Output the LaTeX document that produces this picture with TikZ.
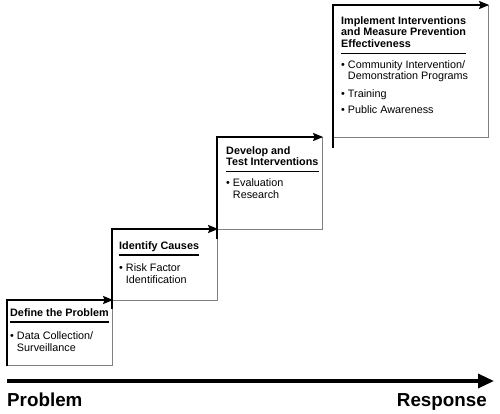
\documentclass[tikz,border=0pt]{standalone}
\usepackage{fontspec}
\setmainfont{Liberation Sans}
\usetikzlibrary{arrows.meta}

\tikzset{
  frame/.style={draw=black!50, line width=1.1pt, inner sep=0pt, anchor=north west},
  riser/.style={line width=1.8pt, -{Stealth[length=10pt,width=8pt,inset=1.5pt]}},
  head/.style={font=\bfseries\fontsize{10.8}{11.8}\selectfont, align=left, inner sep=0pt,
    anchor=north west, execute at end node=\strut},
  items/.style={font=\fontsize{10.8}{11.8}\selectfont, align=left, inner sep=0pt, anchor=north west},
  hrule/.style={line width=1.5pt},
  axislabel/.style={font=\bfseries\fontsize{18.8}{20}\selectfont, inner sep=0pt},
  axis/.style={line width=3.3pt, -{Triangle[length=16pt,width=14pt]}}
}

\begin{document}
\begin{tikzpicture}[x=1pt,y=-1pt]
\useasboundingbox (0,0) rectangle (500,413);

% the four steps
\node[frame, minimum width=105pt, minimum height=65pt] (box1) at (7,300) {};
\node[frame, minimum width=105pt, minimum height=71pt] (box2) at (112,229) {};
\node[frame, minimum width=105pt, minimum height=92pt] (box3) at (217,137) {};
\node[frame, minimum width=155pt, minimum height=132pt] (box4) at (333,5) {};

\draw[riser] (box1.south west) -- (box1.north west) -- (box1.north east);
\draw[riser] ([yshift=-8pt]box2.south west) -- (box2.north west) -- (box2.north east);
\draw[riser] ([yshift=-9pt]box3.south west) -- (box3.north west) -- (box3.north east);
\draw[riser] ([yshift=-10pt]box4.south west) -- (box4.north west) -- (box4.north east);

% texts
\node[head] (head1) at ([xshift=3pt,yshift=-8pt]box1.north west) {Define the Problem};
\node[head] (head2) at ([xshift=7pt,yshift=-12pt]box2.north west) {Identify Causes};
\node[head] (head3) at ([xshift=9pt,yshift=-9pt]box3.north west) {Develop and\\Test Interventions};
\node[head] (head4) at ([xshift=8pt,yshift=-11pt]box4.north west) {Implement Interventions\\and Measure Prevention\\Effectiveness};

\foreach \i in {1,...,4}
  \draw[hrule] ([yshift=-2pt]head\i.south west) -- ([yshift=-2pt]head\i.south east);

\node[items] (list1) at ([yshift=-11.5pt]head1.south west) {• Data Collection/\\\phantom{• }Surveillance};
\node[items] (list2) at ([yshift=-10.7pt]head2.south west) {• Risk Factor\\\phantom{• }Identification};
\node[items] (list3) at ([yshift=-9pt]head3.south west) {• Evaluation\\\phantom{• }Research};
\node[items] (list4) at ([yshift=-8.7pt]head4.south west) {• Community Intervention/\\\phantom{• }Demonstration Programs\\[5.5pt]• Training\\[4.5pt]• Public Awareness};

% bottom scale
\coordinate (axis start) at (7,381);
\coordinate (axis end) at (494,381);
\draw[axis] (axis start) -- (axis end);
\node[axislabel, anchor=base west] (problem) at (7,406) {Problem};
\node[axislabel, anchor=base east] (response) at (487,406) {Response};
\end{tikzpicture}
\end{document}
